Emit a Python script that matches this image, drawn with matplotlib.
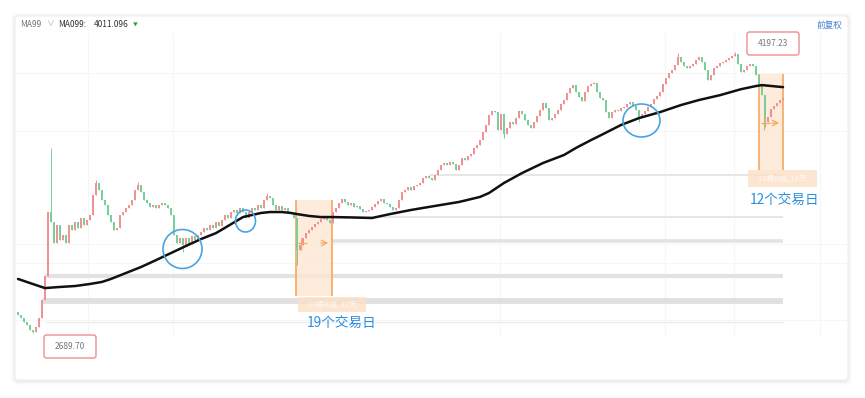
import numpy as np
import matplotlib
matplotlib.use("Agg")
import matplotlib.pyplot as plt
from matplotlib.patches import Rectangle, Ellipse, FancyBboxPatch
from matplotlib.transforms import IdentityTransform

plt.rcParams['font.family'] = ['Noto Sans CJK SC', 'DejaVu Sans']

# ---------------- data ----------------
open0 = 2803
close = [
    2787, 2770, 2749, 2733, 2706, 2695, 2722, 2770, 2867, 2996,
    3339, 3286, 3173, 3269, 3189, 3216, 3173, 3269, 3243, 3286,
    3253, 3307, 3269, 3296, 3323, 3430, 3495, 3457, 3404, 3377,
    3323, 3286, 3243, 3253, 3323, 3339, 3361, 3377, 3404, 3457,
    3484, 3446, 3404, 3387, 3366, 3377, 3361, 3377, 3387, 3377,
    3361, 3323, 3216, 3173, 3200, 3162, 3200, 3167, 3210, 3189,
    3216, 3232, 3253, 3243, 3269, 3253, 3286, 3264, 3296, 3323,
    3307, 3339, 3350, 3334, 3361, 3339, 3307, 3339, 3361, 3350,
    3377, 3361, 3404, 3425, 3414, 3377, 3350, 3371, 3350, 3361,
    3339, 3328, 3307, 3135, 3162, 3200, 3227, 3243, 3259, 3275,
    3286, 3302, 3312, 3296, 3280, 3339, 3361, 3387, 3409, 3393,
    3377, 3387, 3366, 3371, 3355, 3339, 3345, 3350, 3366, 3382,
    3398, 3409, 3387, 3382, 3366, 3350, 3361, 3404, 3446, 3457,
    3473, 3457, 3479, 3484, 3495, 3522, 3532, 3522, 3511, 3538,
    3564, 3591, 3602, 3591, 3607, 3597, 3564, 3591, 3629, 3618,
    3640, 3650, 3683, 3698, 3725, 3768, 3806, 3859, 3881, 3876,
    3779, 3865, 3758, 3790, 3822, 3811, 3843, 3881, 3865, 3832,
    3806, 3790, 3822, 3854, 3886, 3924, 3897, 3832, 3843, 3865,
    3886, 3919, 3940, 3978, 4004, 4020, 3983, 3956, 3935, 3983,
    4015, 4026, 4031, 3983, 3951, 3940, 3876, 3843, 3876, 3886,
    3881, 3897, 3902, 3919, 3929, 3908, 3886, 3849, 3865, 3881,
    3902, 3919, 3945, 3961, 3983, 4026, 4058, 4085, 4101, 4127,
    4171, 4144, 4122, 4112, 4122, 4133, 4154, 4171, 4144, 4101,
    4047, 4074, 4112, 4122, 4139, 4144, 4154, 4165, 4176, 4187,
    4133, 4090, 4101, 4122, 4133, 4122, 4074, 4026, 3966, 3822,
    3849, 3892, 3908, 3924, 3940, 3951,
]
high_idx = [11, 26, 40, 83, 192, 220, 239]
high_val = [3683, 3511, 3500, 3440, 4036, 4192, 4197.23]
low_idx = [5, 55, 93, 162, 207, 249]
low_val = [2689.70, 3125, 3055, 3736, 3822, 3795]

ma_idx = [0, 4, 9, 14, 19, 24, 28, 31, 36, 41, 46, 51, 56, 61, 66, 70, 75, 78,
          81, 84, 88, 91, 93, 97, 101, 105, 111, 118, 124, 131, 135, 141, 147,
          154, 157, 162, 168, 175, 182, 186, 191, 195, 201, 207, 214, 221, 227,
          234, 241, 246, 248, 255]
ma_val = [2980, 2958, 2931, 2937, 2942, 2953, 2964, 2980, 3012, 3044, 3081,
          3119, 3157, 3194, 3226, 3264, 3312, 3323, 3334, 3339, 3339, 3334,
          3328, 3318, 3312, 3312, 3310, 3307, 3328, 3350, 3361, 3377, 3393,
          3420, 3441, 3495, 3548, 3602, 3645, 3683, 3725, 3757, 3806, 3843,
          3875, 3913, 3940, 3966, 3998, 4015, 4020, 4009]

support_levels = [3538, 3312, 3184, 2996, 2862, 2749]
support_start = [137, 104.7, 104.7, 9, 8, 9]

ma_label = "MA099:"
ma_last = "4011.096"
low_label = "2689.70"
high_label = "4197.23"
span1_label = "19个交易日"
span2_label = "12个交易日"

# ---------------- layout helpers ----------------
W, H = 865, 398
X0, DX = 18, 3.0
Y0, P0, K = 333, 2690.0, 5.365


def dx(px):
    return (px - X0) / DX


def dy(py):
    return P0 + (Y0 - py) * K


fig = plt.figure(figsize=(W / 100, H / 100), dpi=100)
fig.patch.set_facecolor('white')
ax = fig.add_axes([0, 0, 1, 1])
ax.set_facecolor('none')
ax.axis('off')
ax.set_xlim(dx(0), dx(W))
ax.set_ylim(dy(H), dy(0))


def pix_box(x0, y0, x1, y1, r=4, **kw):
    return FancyBboxPatch((x0, H - y1), x1 - x0, y1 - y0,
                          boxstyle=f'round,pad=0,rounding_size={r}',
                          transform=IdentityTransform(), **kw)


# card + shadow
for i, a in enumerate([0.012, 0.016, 0.02, 0.025]):
    g = 4 - i
    fig.add_artist(pix_box(15 - g, 16 - g + 1, 848 + g, 380 + g + 1, r=6,
                           fc='black', ec='none', alpha=a, zorder=-3))
fig.add_artist(pix_box(15, 16, 848, 380, r=4, fc='white', ec='#efefef',
                       lw=0.8, zorder=-2))

# faint grid
for gx in [88, 173, 500, 665, 734, 820]:
    ax.vlines(dx(gx), dy(337), dy(33), color='#f6f6f6', lw=0.8, zorder=0)
for gy in [73, 131, 244, 263, 320]:
    ax.hlines(dy(gy), dx(15), dx(848), color='#f6f6f6', lw=0.8, zorder=0)

# support bands
band_w = [1.4, 1.4, 2.6, 3.0, 4.2, 1.0]
band_c = ['#e6e6e6', '#e6e6e6', '#e3e3e3', '#e2e2e2', '#e0e0e0', '#eeeeee']
n = len(close)
for lv, st, w, c in zip(support_levels, support_start, band_w, band_c):
    ax.hlines(lv, st, n - 1, color=c, lw=w, zorder=1)

# candles
idx = np.arange(n)
c_arr = np.array(close, dtype=float)
o_arr = np.concatenate([[open0], c_arr[:-1]])
body_lo = np.minimum(o_arr, c_arr)
hi = np.maximum(o_arr, c_arr)
lo = body_lo.copy()
hi[high_idx] = high_val
lo[low_idx] = low_val
up = c_arr >= o_arr
cols = np.where(up, '#f09292', '#78cf9c')
ax.vlines(idx, lo, hi, colors=cols, lw=0.7, zorder=3)
ax.bar(idx, np.maximum(np.abs(c_arr - o_arr), 4), bottom=body_lo,
       width=0.6, color=cols, linewidth=0, zorder=3)

# MA99
ax.plot(ma_idx, ma_val, color='#111111', lw=1.8, zorder=4,
        solid_joinstyle='round', solid_capstyle='round')

# orange measuring spans
spans = [(296, 332, 200, 296, 298, 366, 297, 312, 243, "19根K线, 27天"),
         (759, 783, 74, 170, 748, 817, 170, 187, 123, "12根K线, 16天")]
orange = '#f6a760'
for (x0, x1, yt, yb, lx0, lx1, lyt, lyb, my, ghost) in spans:
    ax.add_patch(Rectangle((dx(x0), dy(yb)), dx(x1) - dx(x0), dy(yt) - dy(yb),
                           fc='#fde6d0', ec='none', alpha=0.75, zorder=2))
    ax.vlines([dx(x0), dx(x1)], dy(yb), dy(yt), color=orange, lw=1.2, zorder=2.5)
    ax.add_patch(Rectangle((dx(lx0), dy(lyb)), dx(lx1) - dx(lx0), dy(lyt) - dy(lyb),
                           fc='#fde0c6', ec='none', alpha=0.8, zorder=2))
    ax.text(dx((lx0 + lx1) / 2), dy((lyt + lyb) / 2), ghost, color='white',
            alpha=0.8, fontsize=5.5, ha='center', va='center', zorder=2.6)
    ax.hlines(dy(my), dx(x0 + 2), dx(x0 + 11), color=orange, lw=0.9, zorder=5)
    ax.vlines(dx(x0 + 5), dy(my + 7), dy(my - 5), color=orange, lw=0.9, zorder=5)
    ax.annotate('', xy=(dx(x1 - 1), dy(my)), xytext=(dx(x1 - 14), dy(my)),
                arrowprops=dict(arrowstyle='->', color=orange, lw=0.9), zorder=5)

ax.text(dx(307), dy(323), span1_label, color='#2b8fe0', fontsize=9.8,
        ha='left', va='center', zorder=6)
ax.text(dx(750), dy(200), span2_label, color='#2b8fe0', fontsize=9.8,
        ha='left', va='center', zorder=6)

# blue circles
for (cx, cy, rx, ry) in [(182.5, 249, 19.5, 19.5), (245.5, 221, 10, 11),
                         (641.5, 120.5, 18.5, 16.5)]:
    ax.add_patch(Ellipse((dx(cx), dy(cy)), 2 * rx / DX, 2 * ry * K,
                         fc='none', ec='#4aa3e3', lw=1.2, zorder=5))

# price labels
for (x0, y0, x1, y1, txt) in [(44, 335, 96, 358, low_label),
                              (747, 32, 799, 55, high_label)]:
    ax.add_patch(pix_box(x0, y0, x1, y1, r=2.5, fc='white', ec='#ec8f8f',
                         lw=1.0, zorder=6))
    ax.text(dx((x0 + x1) / 2), dy((y0 + y1) / 2), txt, color='#777777',
            fontsize=6, ha='center', va='center', zorder=7)

# header
ax.text(dx(20), dy(24), "MA99", color='#777777', fontsize=6, ha='left', va='center')
ax.text(dx(46), dy(24), "∨", color='#aaaaaa', fontsize=5.5, ha='left', va='center')
ax.text(dx(58), dy(24), ma_label, color='#333333', fontsize=6, ha='left', va='center')
ax.text(dx(94), dy(24), ma_last, color='#333333', fontsize=6, ha='left', va='center')
ax.text(dx(133), dy(24), "▼", color='#2e9e3e', fontsize=3.5, ha='left', va='center')
ax.text(dx(842), dy(25), "前复权", color='#3f7fd6', fontsize=6.2, ha='right', va='center')

fig.savefig('out.png', dpi=100, facecolor='white')
